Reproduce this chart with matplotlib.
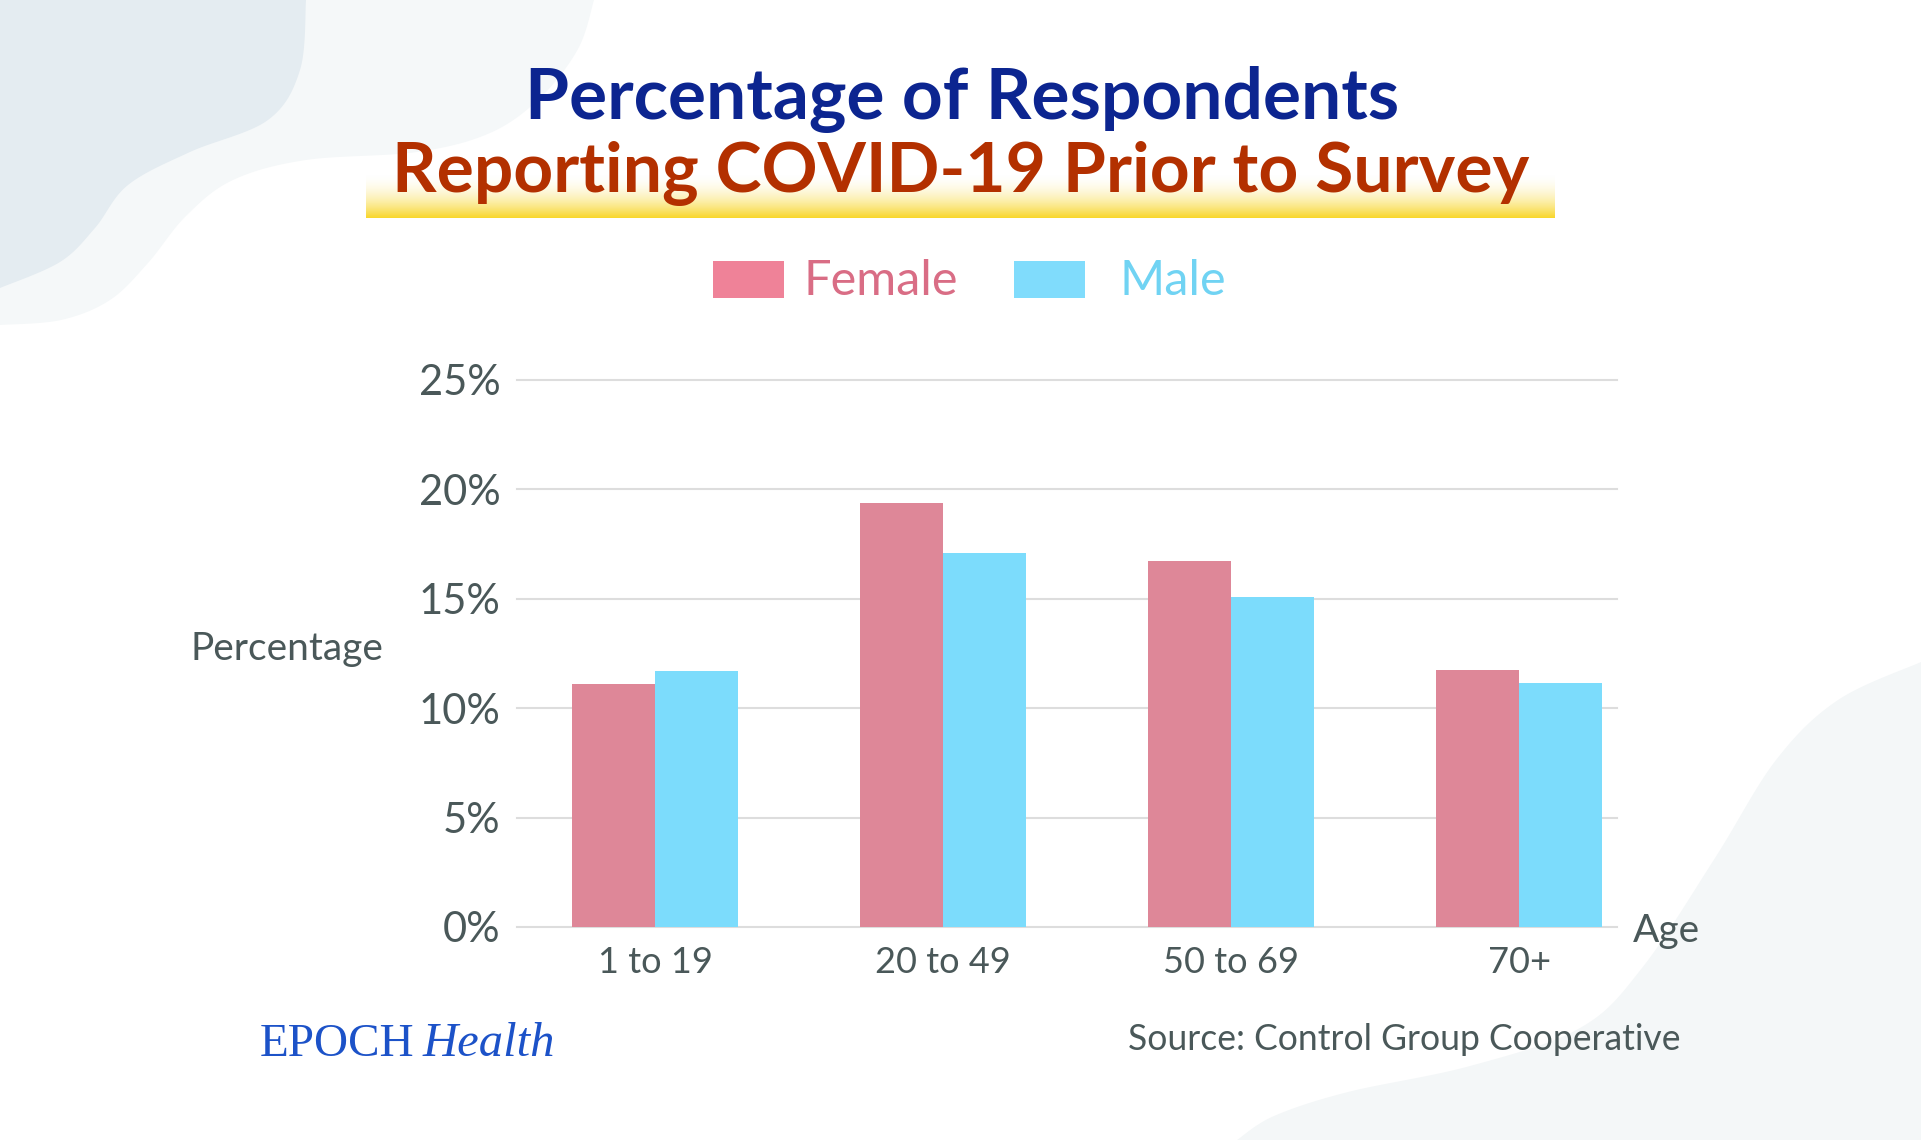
import matplotlib
matplotlib.use("Agg")
import matplotlib.pyplot as plt
import numpy as np
from matplotlib.patches import Polygon, Rectangle
from matplotlib.ticker import FuncFormatter

# data
age_groups = ["1 to 19", "20 to 49", "50 to 69", "70+"]
female_pct = [11.1, 19.4, 16.75, 11.75]
male_pct = [11.7, 17.1, 15.1, 11.15]
y_ticks = [0, 5, 10, 15, 20, 25]

W, H = 1921, 1140
FEMALE_BAR = "#de8798"
MALE_BAR = "#7cdcfc"
GREY_TEXT = "#4a5859"

plt.rcParams["font.family"] = ["Lato", "DejaVu Sans"]


def smooth(points, n=24):
    # Catmull-Rom through the given points, used for the decorative blobs
    pts = np.array(points, float)
    p = np.vstack([pts[0], pts, pts[-1]])
    out = []
    t = np.linspace(0, 1, n, endpoint=False)[:, None]
    for i in range(1, len(p) - 2):
        p0, p1, p2, p3 = p[i - 1], p[i], p[i + 1], p[i + 2]
        out.append(0.5 * (2 * p1 + (-p0 + p2) * t
                          + (2 * p0 - 5 * p1 + 4 * p2 - p3) * t ** 2
                          + (-p0 + 3 * p1 - 3 * p2 + p3) * t ** 3))
    out.append(p[-2][None])
    return np.vstack(out)


fig = plt.figure(figsize=(W / 100, H / 100), dpi=100)
fig.patch.set_facecolor("white")

# background layer in pixel coordinates
bg = fig.add_axes([0, 0, 1, 1], zorder=0)
bg.set_xlim(0, W)
bg.set_ylim(H, 0)
bg.axis("off")

light_wave = smooth([(594, 0), (578, 49), (540, 98), (490, 133), (417, 152), (306, 160),
                     (233, 180), (186, 216), (148, 263), (110, 300), (61, 320), (0, 325)])
bg.add_patch(Polygon(np.vstack([light_wave, [(0, 0)]]), closed=True,
                     facecolor="#f5f8f9", edgecolor="none"))
dark_blob = smooth([(306, 0), (300, 70), (268, 120), (190, 152), (128, 185),
                    (95, 228), (60, 262), (0, 288)])
bg.add_patch(Polygon(np.vstack([dark_blob, [(0, 0)]]), closed=True,
                     facecolor="#e4ecf1", edgecolor="none"))
corner = smooth([(1921, 662), (1838, 700), (1776, 760), (1715, 858), (1642, 968),
                 (1580, 1028), (1470, 1066), (1348, 1092), (1274, 1116), (1237, 1140)])
bg.add_patch(Polygon(np.vstack([corner, [(1921, 1140)]]), closed=True,
                     facecolor="#f4f7f8", edgecolor="none"))

# yellow highlighter band under the second title line
grad = np.linspace(0, 1, 64)[:, None]
band = np.zeros((64, 2, 4))
yellow = np.array([0.976, 0.843, 0.165])
band[..., :3] = (1 - grad[..., None]) + grad[..., None] * yellow
band[..., 3] = 0.15 + 0.85 * grad
bg.imshow(band, extent=(366, 1555, 218, 175), aspect="auto", interpolation="bilinear", zorder=1)

bg.text(962, 119, "Percentage of Respondents", ha="center", va="baseline",
        fontsize=51.3, fontweight="bold", color="#0c2590", zorder=2)
bg.text(961, 192, "Reporting COVID-19 Prior to Survey", ha="center", va="baseline",
        fontsize=50, fontweight="bold", color="#b33000", zorder=2)

# legend
bg.add_patch(Rectangle((713, 261), 71, 37, facecolor="#ef8298", edgecolor="none"))
bg.text(804, 281, "Female", ha="left", va="center", fontsize=35, color="#d96d85")
bg.add_patch(Rectangle((1014, 261), 71, 37, facecolor="#80dcfc", edgecolor="none"))
bg.text(1119, 281, "Male", ha="left", va="center", fontsize=35, color="#70d3f3")

bg.text(190, 649, "Percentage", ha="left", va="center", fontsize=28, color=GREY_TEXT)
bg.text(1633, 931, "Age", ha="left", va="center", fontsize=28, color=GREY_TEXT)

bg.text(260, 1056, "EPOCH", ha="left", va="baseline", fontsize=34, color="#1c52c8",
        family=["Liberation Serif", "DejaVu Serif"])
bg.text(423, 1056, "Health", ha="left", va="baseline", fontsize=35, color="#1c52c8",
        style="italic", family=["Liberation Serif", "DejaVu Serif"])
bg.text(1681, 1039, "Source: Control Group Cooperative", ha="right", va="center",
        fontsize=25.6, color=GREY_TEXT)

# chart axes: x 517..1617 px, 0% at y=927 px, 25% at y=380 px
ax = fig.add_axes([517 / W, 1 - 927 / H, 1100 / W, 547 / H], zorder=3)
ax.set_facecolor("none")

x = np.arange(len(age_groups))
bar_w = 0.288
ax.bar(x - bar_w / 2, female_pct, bar_w, color=FEMALE_BAR, zorder=3)
ax.bar(x + bar_w / 2, male_pct, bar_w, color=MALE_BAR, zorder=3)

ax.set_xlim(-0.479, 3.34)
ax.set_ylim(0, 25)
ax.set_yticks(y_ticks)
ax.yaxis.set_major_formatter(FuncFormatter(lambda v, _: f"{v:.0f}%"))
ax.set_xticks(x)
ax.set_xticklabels(age_groups)
ax.grid(axis="y", color="#dddddd", linewidth=1.5, zorder=0)
for line in ax.get_ygridlines():
    line.set_clip_on(False)
for side in ax.spines.values():
    side.set_visible(False)
ax.tick_params(axis="y", length=0, pad=12, labelsize=30, labelcolor=GREY_TEXT)
ax.tick_params(axis="x", length=0, pad=14, labelsize=26, labelcolor=GREY_TEXT)

fig.savefig("out.png", dpi=100, facecolor="white")
